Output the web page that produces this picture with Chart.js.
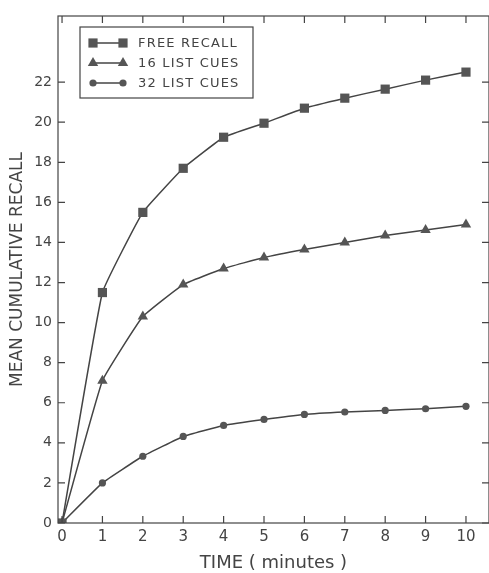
<!DOCTYPE html>
<html>
<head>
<meta charset="utf-8">
<script src="https://cdn.jsdelivr.net/npm/chart.js@4/dist/chart.umd.min.js"></script>
<style>
  html, body { margin: 0; padding: 0; background: #fff; }
  #wrap { width: 489px; height: 573px; }
</style>
</head>
<body>
<div id="wrap"><canvas id="recallChart"></canvas></div>
<script>
const minutes = [0, 1, 2, 3, 4, 5, 6, 7, 8, 9, 10];
const freeRecall = [0, 11.5, 15.5, 17.7, 19.25, 19.95, 20.7, 21.2, 21.65, 22.1, 22.5];
const listCues16 = [0, 7.1, 10.3, 11.9, 12.7, 13.25, 13.65, 14.0, 14.35, 14.62, 14.9];
const listCues32 = [0, 2.0, 3.33, 4.32, 4.87, 5.17, 5.42, 5.54, 5.62, 5.7, 5.82];
const yTickValues = [0, 2, 4, 6, 8, 10, 12, 14, 16, 18, 20, 22];
const xTickValues = [0, 1, 2, 3, 4, 5, 6, 7, 8, 9, 10];
const seriesLabels = ['FREE RECALL', '16 LIST CUES', '32 LIST CUES'];

const ink = '#444';
const fontFamily = '"DejaVu Sans", sans-serif';

function toPoints(values){
    return minutes.map((m, i) => ({x: m, y: values[i]}));
}

function makeSet(label, values, style, radius){
    return {
        label: label,
        data: toPoints(values),
        borderColor: ink,
        backgroundColor: '#555',
        borderWidth: 1.5,
        pointStyle: style,
        pointRadius: radius,
        pointBorderWidth: 0,
        tension: 0.1
    };
}

// frame with inward ticks and the boxed legend
const framePlugin = {
    id: 'frame',
    afterDraw(chart){
        const ctx = chart.ctx;
        const a = chart.chartArea;
        const xs = chart.scales.x;
        const ys = chart.scales.y;
        ctx.save();
        ctx.strokeStyle = ink;
        ctx.lineWidth = 1.2;
        ctx.strokeRect(a.left, a.top, a.right - a.left, a.bottom - a.top);
        ctx.beginPath();
        for(const v of xTickValues){
            const px = xs.getPixelForValue(v);
            ctx.moveTo(px, a.bottom); ctx.lineTo(px, a.bottom - 7);
            ctx.moveTo(px, a.top); ctx.lineTo(px, a.top + 7);
        }
        for(const v of yTickValues){
            const py = ys.getPixelForValue(v);
            ctx.moveTo(a.left, py); ctx.lineTo(a.left + 7, py);
            ctx.moveTo(a.right, py); ctx.lineTo(a.right - 7, py);
        }
        ctx.stroke();

        // legend
        const bx = 80, by = 27, bw = 173, bh = 71;
        ctx.fillStyle = '#fff';
        ctx.fillRect(bx, by, bw, bh);
        ctx.strokeRect(bx, by, bw, bh);
        ctx.font = '13px ' + fontFamily;
        ctx.letterSpacing = '1.2px';
        ctx.textBaseline = 'middle';
        chart.data.datasets.forEach((ds, i) => {
            const cy = 43 + i * 20;
            ctx.strokeStyle = ink;
            ctx.lineWidth = 1.5;
            ctx.beginPath();
            ctx.moveTo(93, cy); ctx.lineTo(123, cy);
            ctx.stroke();
            const opts = {pointStyle: ds.pointStyle, radius: ds.pointRadius, rotation: 0, borderWidth: 0};
            ctx.fillStyle = '#555';
            Chart.helpers.drawPoint(ctx, opts, 93, cy);
            ctx.fillStyle = '#555';
            Chart.helpers.drawPoint(ctx, opts, 123, cy);
            ctx.fillStyle = ink;
            ctx.fillText(ds.label, 138, cy + 1);
        });
        ctx.restore();
    }
};

const chart = new Chart(document.getElementById('recallChart'), {
    type: 'line',
    data: {
        datasets: [
            makeSet(seriesLabels[0], freeRecall, 'rect', 6.5),
            makeSet(seriesLabels[1], listCues16, 'triangle', 6),
            makeSet(seriesLabels[2], listCues32, 'circle', 3.6)
        ]
    },
    options: {
        responsive: true,
        maintainAspectRatio: false,
        animation: false,
        layout: { autoPadding: false, padding: { top: 16, right: 0, left: 0, bottom: 0 } },
        plugins: { legend: { display: false }, tooltip: { enabled: false } },
        scales: {
            x: {
                type: 'linear',
                min: -0.1,
                max: 10.57,
                afterBuildTicks(scale){ scale.ticks = xTickValues.map(v => ({value: v})); },
                afterFit(scale){ scale.height = 50; scale.paddingLeft = 0; scale.paddingRight = 0; },
                grid: { display: false, drawTicks: false },
                border: { display: false },
                ticks: { color: ink, padding: 5, font: { family: fontFamily, size: 15 }, maxRotation: 0 },
                title: {
                    display: true,
                    text: 'TIME ( minutes )',
                    color: ink,
                    font: { family: fontFamily, size: 18 },
                    padding: { top: 0, bottom: -1 }
                }
            },
            y: {
                min: 0,
                max: 25.3,
                afterBuildTicks(scale){ scale.ticks = yTickValues.map(v => ({value: v})); },
                afterFit(scale){ scale.width = 58; scale.paddingTop = 0; scale.paddingBottom = 0; },
                grid: { display: false, drawTicks: false },
                border: { display: false },
                ticks: { color: ink, padding: 6, font: { family: fontFamily, size: 14 } },
                title: {
                    display: true,
                    text: 'MEAN CUMULATIVE RECALL',
                    color: ink,
                    font: { family: fontFamily, size: 17 },
                    padding: { top: 7, bottom: 0 }
                }
            }
        }
    },
    plugins: [framePlugin]
});
</script>
</body>
</html>
